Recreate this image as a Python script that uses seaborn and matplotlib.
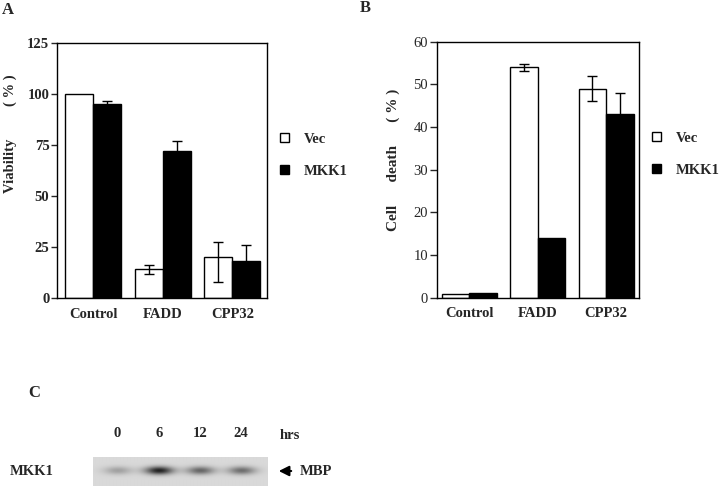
"""
Viability / cell death bar panels (A, B) with a kinase assay blot strip (C).
"""

import numpy as np
import pandas as pd
import seaborn as sns
import matplotlib.pyplot as plt

GROUPS = ["Control", "FADD", "CPP32"]
SERIES = ["Vec", "MKK1"]

# panel A: viability (%)
VIABILITY_VEC = [100, 14, 20]
VIABILITY_MKK1 = [95, 72, 18]
VIABILITY_VEC_ERR_LO = [0, 2.2, 12]
VIABILITY_VEC_ERR_HI = [0, 2.4, 7.6]
VIABILITY_MKK1_ERR = [1.8, 5, 8]

# panel B: cell death (%)
DEATH_VEC = [0.8, 54, 49]
DEATH_MKK1 = [1.2, 14, 43]
DEATH_VEC_ERR = [0, 0.8, 3]
DEATH_MKK1_ERR = [0, 0, 5]

# panel C: blot lanes and how dark each band looks
TIMEPOINTS = ["0", "6", "12", "24"]
BAND_INTENSITY = [0.22, 0.72, 0.45, 0.42]

PALETTE = {"Vec": "white", "MKK1": "black"}


def make_frame(vec, mkk1):
    return pd.DataFrame({
        "group": GROUPS * 2,
        "series": ["Vec"] * 3 + ["MKK1"] * 3,
        "value": list(vec) + list(mkk1)})


def bar_panel(ax, df, errs, ylim, yticks, bold_ticks):
    sns.barplot(data=df, x="group", y="value", hue="series",
                hue_order=SERIES, order=GROUPS, palette=PALETTE,
                edgecolor="black", linewidth=1, errorbar=None,
                width=0.8, ax=ax)

    # error bars on top of each bar, lo/hi per series
    for cont, (lo, hi) in zip(ax.containers, errs):
        xs = [b.get_x() + b.get_width() / 2 for b in cont]
        ys = [b.get_height() for b in cont]
        for x, y, l, h in zip(xs, ys, lo, hi):
            if l == 0 and h == 0:
                continue
            ax.errorbar(x, y, yerr=[[l], [h]], fmt="none", ecolor="black",
                        elinewidth=1, capsize=3.5, capthick=1, zorder=5)

    ax.set_ylim(*ylim)
    ax.set_yticks(yticks)
    ax.set_xlabel("")
    ax.set_ylabel("")
    for s in ax.spines.values():
        s.set_visible(True)
        s.set_linewidth(1)
        s.set_color("black")
    ax.tick_params(axis="x", length=0, pad=7)
    weight = "bold" if bold_ticks else "normal"
    for lab in ax.get_yticklabels():
        lab.set_fontweight(weight)
        lab.set_fontsize(10.5)
    for lab in ax.get_xticklabels():
        lab.set_fontweight("bold")
        lab.set_fontsize(10.5)

    handles = list(ax.containers)
    ax.legend(handles=[h[0] for h in handles], labels=SERIES,
              loc="center left", bbox_to_anchor=(1.0, 0.56),
              frameon=False, handlelength=0.6, handleheight=0.6,
              handletextpad=1.0, labelspacing=1.3,
              prop={"weight": "bold", "size": 10.5})


def blot_panel(ax):
    # grey membrane strip with one band per lane
    xs = np.linspace(-0.6, 3.63, 400)
    ys = np.linspace(0, 29, 60)
    gx, gy = np.meshgrid(xs, ys)
    img = np.full(gx.shape, 0.85)
    for lane, val in enumerate(BAND_INTENSITY):
        img -= val * np.exp(-((gx - lane) ** 2) / (2 * 0.24 ** 2)
                            - ((gy - 14) ** 2) / (2 * 2.8 ** 2))
    ax.imshow(img, cmap="gray", vmin=0, vmax=1, aspect="auto",
              extent=(-0.6, 3.63, 29, 0), interpolation="bilinear")
    ax.set_xticks(range(len(TIMEPOINTS)))
    ax.set_xticklabels(TIMEPOINTS, fontweight="bold", fontsize=10.5)
    ax.xaxis.tick_top()
    ax.tick_params(axis="x", length=0, pad=12)
    ax.set_yticks([])
    for s in ax.spines.values():
        s.set_visible(False)


def main():
    sns.set_style("ticks")
    plt.rcParams["font.family"] = ["Liberation Serif", "DejaVu Serif"]
    plt.rcParams["xtick.direction"] = "out"
    plt.rcParams["ytick.direction"] = "out"

    fig = plt.figure(figsize=(7.2, 4.86), dpi=100)

    ax_a = fig.add_axes([0.0792, 0.3868, 0.2917, 0.5247])
    bar_panel(ax_a, make_frame(VIABILITY_VEC, VIABILITY_MKK1),
              [(VIABILITY_VEC_ERR_LO, VIABILITY_VEC_ERR_HI),
               (VIABILITY_MKK1_ERR, VIABILITY_MKK1_ERR)],
              (0, 125), [0, 25, 50, 75, 100, 125], True)
    ax_a.set_xlim(-0.52, 2.5)
    ax_a.tick_params(axis="y", length=4, width=1, pad=1.5)

    ax_b = fig.add_axes([0.6069, 0.3874, 0.2806, 0.5268])
    bar_panel(ax_b, make_frame(DEATH_VEC, DEATH_MKK1),
              [(DEATH_VEC_ERR, DEATH_VEC_ERR),
               (DEATH_MKK1_ERR, DEATH_MKK1_ERR)],
              (0, 60), [0, 10, 20, 30, 40, 50, 60], False)
    ax_b.set_xlim(-0.47, 2.48)
    ax_b.tick_params(axis="y", length=5, width=1, pad=1.5)

    ax_c = fig.add_axes([0.129, 0.0, 0.2417, 0.0597])
    blot_panel(ax_c)

    # y labels, panel letters and blot annotations
    fig.text(10 / 720, 1 - 134 / 486, "Viability" + " " * 9 + "( % )",
             rotation=90, ha="center", va="center", fontweight="bold",
             fontsize=10.5)
    fig.text(393 / 720, 1 - 160 / 486,
             "Cell" + " " * 6 + "death" + " " * 6 + "( % )",
             rotation=90, ha="center", va="center", fontweight="bold",
             fontsize=11)
    fig.text(8 / 720, 1 - 10 / 486, "A", ha="center", va="center",
             fontweight="bold", fontsize=12)
    fig.text(365 / 720, 1 - 8 / 486, "B", ha="center", va="center",
             fontweight="bold", fontsize=12)
    fig.text(34 / 720, 1 - 393 / 486, "C", ha="center", va="center",
             fontweight="bold", fontsize=12)
    fig.text(280 / 720, 1 - 435 / 486, "hrs", ha="left", va="center",
             fontweight="bold", fontsize=10.5)
    fig.text(10 / 720, 1 - 471 / 486, "MKK1", ha="left", va="center",
             fontweight="bold", fontsize=10.5)
    fig.text(300 / 720, 1 - 471 / 486, "MBP", ha="left", va="center",
             fontweight="bold", fontsize=10.5)
    fig.add_artist(plt.Annotation(
        "", xy=(276 / 720, 1 - 471 / 486), xytext=(294 / 720, 1 - 471 / 486),
        xycoords="figure fraction", textcoords="figure fraction",
        arrowprops=dict(arrowstyle="-|>,head_length=0.6,head_width=0.3",
                        color="black", lw=1.5)))

    fig.savefig("out.png", dpi=100)


if __name__ == '__main__':
    main()
